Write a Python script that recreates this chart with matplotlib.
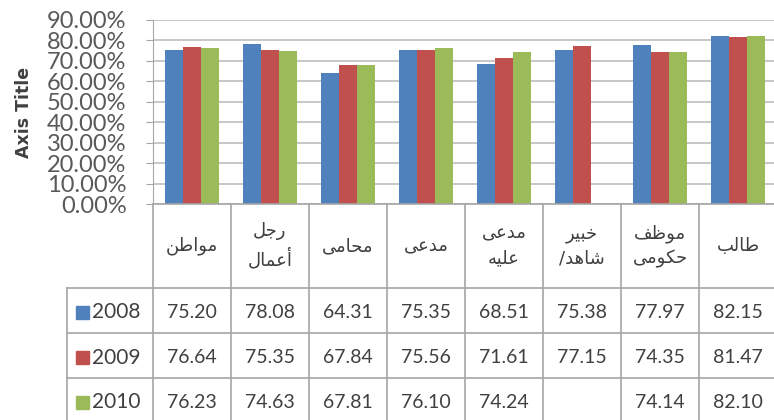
import matplotlib
matplotlib.use("Agg")
import matplotlib.pyplot as plt
from matplotlib.patches import Rectangle
from matplotlib.ticker import FuncFormatter, MultipleLocator
import numpy as np

# ---------------- data ----------------
categories = [["مواطن"], ["رجل", "أعمال"], ["محامى"], ["مدعى"], ["مدعى", "عليه"],
              ["خبير", "شاهد/"], ["موظف", "حكومى"], ["طالب"]]
years = ["2008", "2009", "2010"]
values_2008 = [75.20, 78.08, 64.31, 75.35, 68.51, 75.38, 77.97, 82.15]
values_2009 = [76.64, 75.35, 67.84, 75.56, 71.61, 77.15, 74.35, 81.47]
values_2010 = [76.23, 74.63, 67.81, 76.10, 74.24, None, 74.14, 82.10]
series = [values_2008, values_2009, values_2010]
colors = ["#4F81BD", "#C0504D", "#9BBB59"]

# ---------------- simple Arabic shaping (presentation forms) ----------------
FORMS = {  # iso, fin, ini, med
    "ا": ("\uFE8D", "\uFE8E", None, None),
    "أ": ("\uFE83", "\uFE84", None, None),
    "ب": ("\uFE8F", "\uFE90", "\uFE91", "\uFE92"),
    "ج": ("\uFE9D", "\uFE9E", "\uFE9F", "\uFEA0"),
    "ح": ("\uFEA1", "\uFEA2", "\uFEA3", "\uFEA4"),
    "خ": ("\uFEA5", "\uFEA6", "\uFEA7", "\uFEA8"),
    "د": ("\uFEA9", "\uFEAA", None, None),
    "ر": ("\uFEAD", "\uFEAE", None, None),
    "ش": ("\uFEB5", "\uFEB6", "\uFEB7", "\uFEB8"),
    "ط": ("\uFEC1", "\uFEC2", "\uFEC3", "\uFEC4"),
    "ظ": ("\uFEC5", "\uFEC6", "\uFEC7", "\uFEC8"),
    "ع": ("\uFEC9", "\uFECA", "\uFECB", "\uFECC"),
    "ف": ("\uFED1", "\uFED2", "\uFED3", "\uFED4"),
    "ك": ("\uFED9", "\uFEDA", "\uFEDB", "\uFEDC"),
    "ل": ("\uFEDD", "\uFEDE", "\uFEDF", "\uFEE0"),
    "م": ("\uFEE1", "\uFEE2", "\uFEE3", "\uFEE4"),
    "ن": ("\uFEE5", "\uFEE6", "\uFEE7", "\uFEE8"),
    "ه": ("\uFEE9", "\uFEEA", "\uFEEB", "\uFEEC"),
    "و": ("\uFEED", "\uFEEE", None, None),
    "ى": ("\uFEEF", "\uFEF0", None, None),
    "ي": ("\uFEF1", "\uFEF2", "\uFEF3", "\uFEF4"),
}


def shape(word):
    out = []
    n = len(word)
    for i, ch in enumerate(word):
        if ch not in FORMS:
            out.append(ch)
            continue
        iso, fin, ini, med = FORMS[ch]
        prev = word[i - 1] if i > 0 else None
        nxt = word[i + 1] if i < n - 1 else None
        pj = prev in FORMS and FORMS[prev][2] is not None
        nj = nxt in FORMS and ini is not None
        if pj and nj:
            out.append(med)
        elif pj:
            out.append(fin)
        elif nj:
            out.append(ini)
        else:
            out.append(iso)
    return "".join(reversed(out))


# ---------------- figure ----------------
W, H = 774, 420
fig = plt.figure(figsize=(W / 100, H / 100), dpi=100)
fig.patch.set_facecolor("white")

num_font = "Lato"
text_col = "#404040"
line_col = "#a6a6a6"

x_left, x_col = 153, 78
plot_top, plot_bot = 20, 204
ncat = len(categories)

ax = fig.add_axes([x_left / W, (H - plot_bot) / H, ncat * x_col / W, (plot_bot - plot_top) / H])
x = np.arange(ncat) + 0.5
bw = 0.227
for k, (vals, c) in enumerate(zip(series, colors)):
    xs = [xi + (k - 1) * bw for xi, v in zip(x, vals) if v is not None]
    hs = [v / 100 for v in vals if v is not None]
    ax.bar(xs, hs, width=bw, color=c, zorder=3)

ax.set_xlim(0, ncat)
ax.set_ylim(0, 0.9)
ax.yaxis.set_major_locator(MultipleLocator(0.1))
ax.yaxis.set_major_formatter(FuncFormatter(lambda v, p: f"{v * 100:.2f}%"))
ax.grid(axis="y", color="#bdbdbd", lw=1.2, zorder=0)
ax.set_xticks([])
for s in ["top", "right", "bottom"]:
    ax.spines[s].set_visible(False)
ax.spines["left"].set_color(line_col)
ax.tick_params(axis="y", length=5, color=line_col, labelsize=17, labelcolor="#595959", pad=14)
for lab in ax.get_yticklabels():
    lab.set_fontfamily(num_font)
ax.set_ylabel("Axis Title", fontsize=12.5, fontweight="bold", color=text_col,
              fontfamily="DejaVu Sans")
ax.yaxis.set_label_coords(-0.193, 0.5)

# ---------------- data table ----------------
tab_h = H - plot_bot
tab = fig.add_axes([x_left / W, 0, ncat * x_col / W, tab_h / H])
tab.set_xlim(0, ncat)
tab.set_ylim(tab_h, 0)
tab.axis("off")
hdr_h, row_h = 84, 45
left_edge = (67 - x_left) / x_col

# horizontal lines
tab.plot([0, ncat], [0, 0], color=line_col, lw=1.2, clip_on=False)
for r in range(len(years) + 1):
    y = hdr_h + r * row_h
    tab.plot([left_edge, ncat], [y, y], color=line_col, lw=1.2, clip_on=False)
# vertical lines
for i in range(ncat + 1):
    tab.plot([i, i], [0, tab_h + 10], color=line_col, lw=1.2, clip_on=False)
tab.plot([left_edge, left_edge], [hdr_h, tab_h + 10], color=line_col, lw=1.2, clip_on=False)

# category labels
for i, lines in enumerate(categories):
    txt = "\n".join(shape(w) for w in lines)
    tab.text(i + 0.5, hdr_h / 2, txt, ha="center", va="center", fontsize=13,
             color=text_col, fontfamily="DejaVu Sans", linespacing=1.45)

# rows
sq = 13 / x_col
for r, (yr, vals, c) in enumerate(zip(years, series, colors)):
    yc = hdr_h + r * row_h + row_h / 2 + 2
    tab.add_patch(Rectangle(((76 - x_left) / x_col, yc - 6.5), sq, 13, color=c, clip_on=False))
    tab.text((92 - x_left) / x_col, yc, yr, ha="left", va="center", fontsize=15,
             color=text_col, fontfamily=num_font, clip_on=False)
    for i, v in enumerate(vals):
        if v is None:
            continue
        tab.text(i + 0.5, yc, f"{v:.2f}", ha="center", va="center", fontsize=14,
                 color=text_col, fontfamily=num_font)

fig.savefig("out.png", dpi=100)
